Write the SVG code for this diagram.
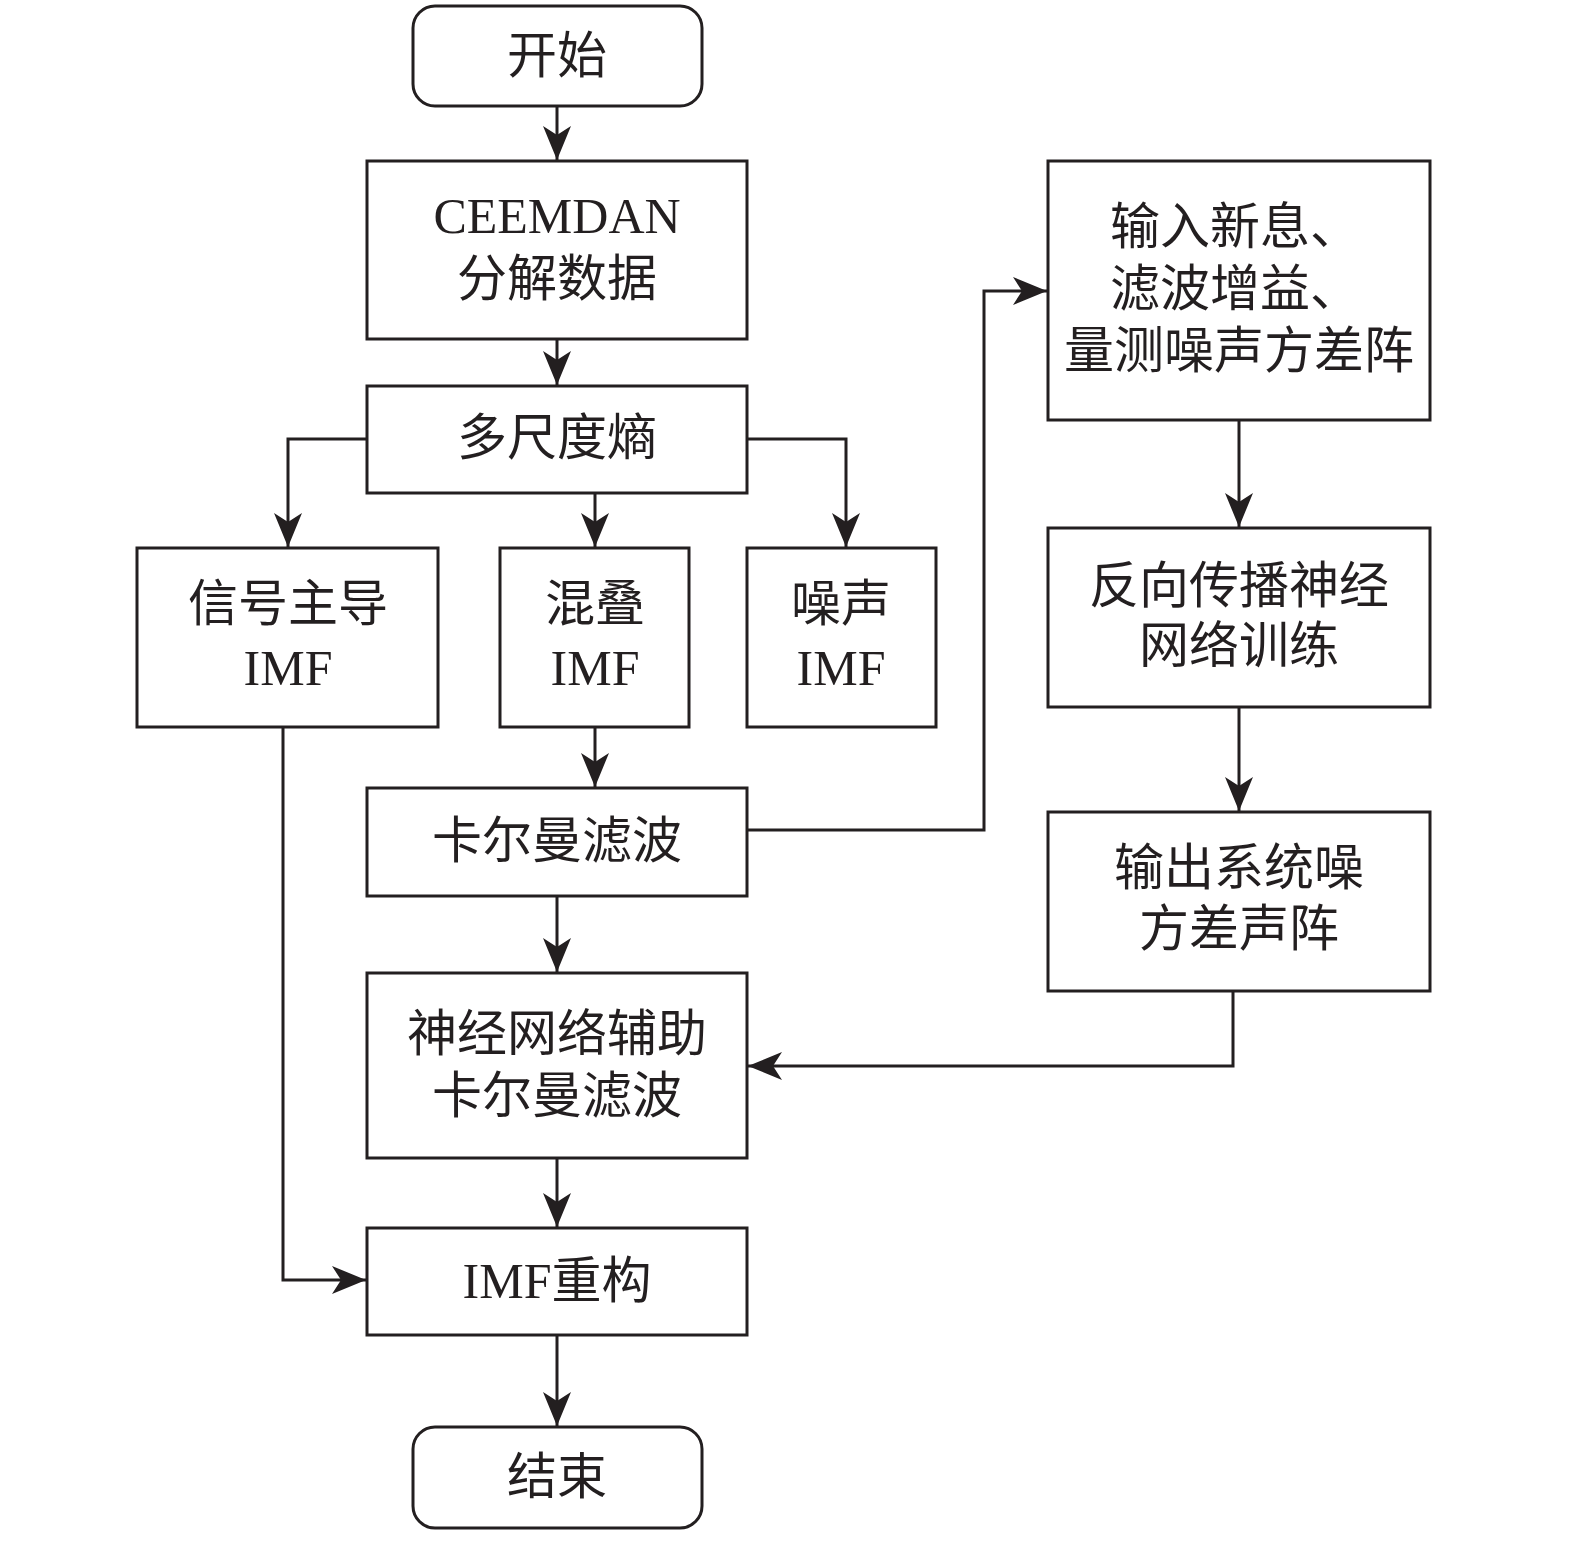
<svg xmlns="http://www.w3.org/2000/svg" width="1575" height="1541" viewBox="0 0 1575 1541">
<style>
.b{fill:#fff;stroke:#231f20;stroke-width:3}
.t{font-family:"Liberation Serif","Noto Sans CJK SC",serif;font-size:50px;fill:#231f20;text-anchor:middle}
.c{fill:none;stroke:#231f20;stroke-width:3}
</style>
<defs>
<marker id="a" markerUnits="userSpaceOnUse" markerWidth="36" markerHeight="30" refX="34" refY="14" orient="auto">
<path d="M0,0 L34,14 L0,28 L9,14 z" fill="#231f20"/>
</marker>
</defs>
<rect width="1575" height="1541" fill="#fff"/>
<g id="connectors">
<path class="c" d="M557,106 V160" marker-end="url(#a)"/>
<path class="c" d="M557,339 V385" marker-end="url(#a)"/>
<path class="c" d="M367,439 H288 V547" marker-end="url(#a)"/>
<path class="c" d="M595,493 V547" marker-end="url(#a)"/>
<path class="c" d="M747,439 H846 V547" marker-end="url(#a)"/>
<path class="c" d="M595,727 V787" marker-end="url(#a)"/>
<path class="c" d="M747,830 H984 V291 H1047" marker-end="url(#a)"/>
<path class="c" d="M1239,420 V527" marker-end="url(#a)"/>
<path class="c" d="M1239,707 V811" marker-end="url(#a)"/>
<path class="c" d="M1233,991 V1066 H748" marker-end="url(#a)"/>
<path class="c" d="M557,896 V972" marker-end="url(#a)"/>
<path class="c" d="M557,1158 V1227" marker-end="url(#a)"/>
<path class="c" d="M283,727 V1280 H366" marker-end="url(#a)"/>
<path class="c" d="M557,1335 V1426" marker-end="url(#a)"/>
</g>
<g id="start"><rect class="b" x="413" y="6" width="289" height="100" rx="22"/><text class="t" x="557" y="73">开始</text></g>
<g id="ceemdan"><rect class="b" x="367" y="161" width="380" height="178"/><text class="t" x="557" y="233">CEEMDAN</text><text class="t" x="557" y="296">分解数据</text></g>
<g id="mse"><rect class="b" x="367" y="386" width="380" height="107"/><text class="t" x="557" y="455">多尺度熵</text></g>
<g id="signal"><rect class="b" x="137" y="548" width="301" height="179"/><text class="t" x="288" y="621">信号主导</text><text class="t" x="288" y="685">IMF</text></g>
<g id="mixed"><rect class="b" x="500" y="548" width="189" height="179"/><text class="t" x="595" y="621">混叠</text><text class="t" x="595" y="685">IMF</text></g>
<g id="noise"><rect class="b" x="747" y="548" width="189" height="179"/><text class="t" x="841" y="621">噪声</text><text class="t" x="841" y="685">IMF</text></g>
<g id="kalman"><rect class="b" x="367" y="788" width="380" height="108"/><text class="t" x="557" y="858">卡尔曼滤波</text></g>
<g id="input"><rect class="b" x="1048" y="161" width="382" height="259"/><text class="t" x="1235" y="244">输入新息、</text><text class="t" x="1235" y="306">滤波增益、</text><text class="t" x="1239" y="368">量测噪声方差阵</text></g>
<g id="bp"><rect class="b" x="1048" y="528" width="382" height="179"/><text class="t" x="1239" y="603">反向传播神经</text><text class="t" x="1239" y="663">网络训练</text></g>
<g id="output"><rect class="b" x="1048" y="812" width="382" height="179"/><text class="t" x="1239" y="885">输出系统噪</text><text class="t" x="1239" y="946">方差声阵</text></g>
<g id="nnkf"><rect class="b" x="367" y="973" width="380" height="185"/><text class="t" x="557" y="1051">神经网络辅助</text><text class="t" x="557" y="1113">卡尔曼滤波</text></g>
<g id="recon"><rect class="b" x="367" y="1228" width="380" height="107"/><text class="t" x="557" y="1298">IMF重构</text></g>
<g id="end"><rect class="b" x="413" y="1427" width="289" height="101" rx="22"/><text class="t" x="557" y="1494">结束</text></g>
</svg>
